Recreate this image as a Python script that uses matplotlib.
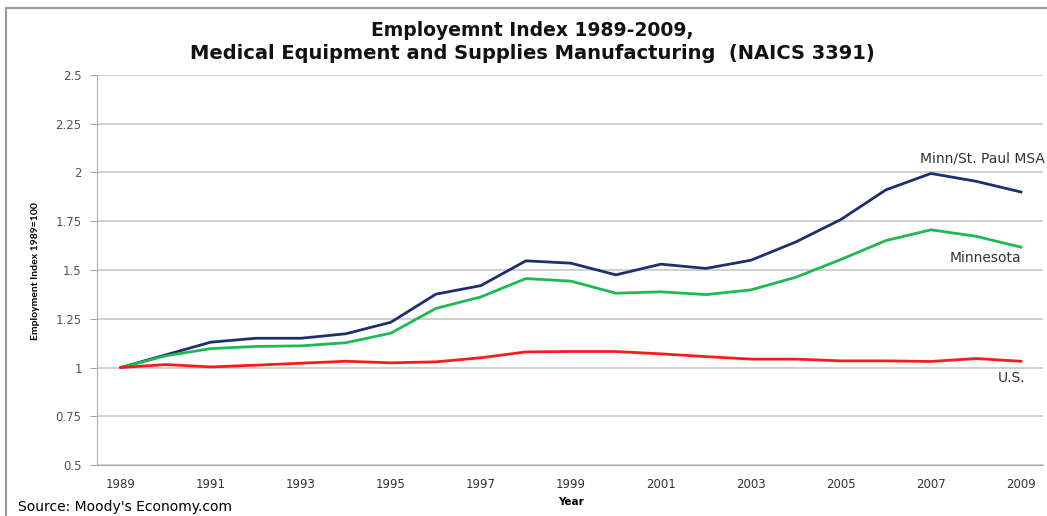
import matplotlib
matplotlib.use("Agg")
from matplotlib import pyplot as plt
from matplotlib.patches import Rectangle

# data
years = list(range(1989, 2010))
msa = [1.0, 1.065, 1.13, 1.15, 1.15, 1.173, 1.232, 1.376, 1.42, 1.547,
       1.535, 1.475, 1.53, 1.508, 1.55, 1.644, 1.759, 1.911, 1.995, 1.955, 1.9]
minnesota = [1.0, 1.06, 1.097, 1.108, 1.111, 1.127, 1.176, 1.303, 1.362, 1.456,
             1.443, 1.381, 1.388, 1.374, 1.398, 1.463, 1.554, 1.651, 1.706, 1.673, 1.617]
us = [1.0, 1.015, 1.003, 1.012, 1.022, 1.032, 1.024, 1.029, 1.05, 1.08,
      1.082, 1.082, 1.07, 1.056, 1.043, 1.043, 1.034, 1.034, 1.031, 1.046, 1.032]
yticks = [0.5, 0.75, 1, 1.25, 1.5, 1.75, 2, 2.25, 2.5]
ytick_labels = ["0.5", "0.75", "1", "1.25", "1.5", "1.75", "2", "2.25", "2.5"]
xticks = list(range(1989, 2010, 2))

plt.rcParams['font.family'] = ['DejaVu Sans']

fig = plt.figure(figsize=(10.47, 5.16), dpi=100)
ax = fig.add_axes([0.0926, 0.0988, 0.904, 0.7559])

# outer chart border
fig.patches.append(Rectangle((0.006, -0.01), 1.2, 0.995, transform=fig.transFigure,
                             fill=False, edgecolor='#999999', linewidth=1.5))

ax.plot(years, msa, color='#1f2f6e', linewidth=2)
ax.plot(years, minnesota, color='#1db954', linewidth=2)
ax.plot(years, us, color='#ff1a1a', linewidth=2)

ax.set_xlim(1988.47, 2009.5)
ax.set_ylim(0.5, 2.5)
ax.set_yticks(yticks)
ax.set_yticklabels(ytick_labels)
ax.set_xticks(xticks)
ax.tick_params(axis='y', length=5, color='#aaaaaa', labelsize=8.5, labelcolor='#555555', pad=6)
ax.tick_params(axis='x', length=0, labelsize=8.5, labelcolor='#333333', pad=9)
ax.grid(axis='y', color='#c8c8c8', linewidth=1.2)
ax.set_axisbelow(True)
for s in ['top', 'right']:
    ax.spines[s].set_visible(False)
ax.spines['left'].set_color('#aaaaaa')
ax.spines['bottom'].set_color('#aaaaaa')

# series labels
ax.text(2008.15, 2.07, "Minn/St. Paul MSA", fontsize=10, color='#333333', ha='center', va='center')
ax.text(2008.22, 1.564, "Minnesota", fontsize=10, color='#333333', ha='center', va='center')
ax.text(2008.8, 0.944, "U.S.", fontsize=10, color='#333333', ha='center', va='center')

fig.text(0.508, 0.94, "Employemnt Index 1989-2009,", fontsize=13.5, fontweight='bold',
         ha='center', va='center', color='#111111')
fig.text(0.508, 0.897, "Medical Equipment and Supplies Manufacturing  (NAICS 3391)",
         fontsize=14, fontweight='bold', ha='center', va='center', color='#111111')
fig.text(0.034, 0.475, "Employment Index 1989=100", rotation=90, fontsize=7.5,
         fontweight='bold', ha='center', va='center', family='Lato')
fig.text(0.545, 0.027, "Year", fontsize=7.5, fontweight='bold', ha='center', va='center')
fig.text(0.017, 0.018, "Source: Moody's Economy.com", fontsize=10, ha='left', va='center')

plt.savefig('out.png', dpi=100)
